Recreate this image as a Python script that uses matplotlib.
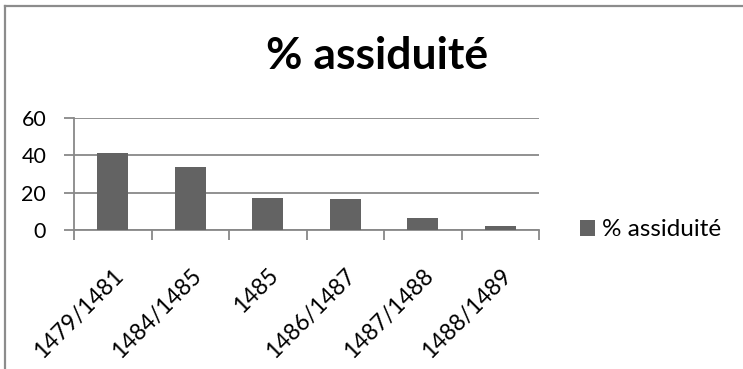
import numpy as np
import matplotlib.pyplot as plt
from matplotlib.lines import Line2D
from matplotlib.patches import Patch
import matplotlib.transforms as mtransforms

plt.rcParams['font.family'] = ['Lato', 'DejaVu Sans']

categories = ['1479/1481', '1484/1485', '1485', '1486/1487', '1487/1488', '1488/1489']
values = [41.2, 34.0, 17.4, 16.8, 6.4, 2.0]
series_name = '% assiduité'

bar_color = '#636363'
grid_color = '#888888'

W, H = 743, 369
fig = plt.figure(figsize=(W / 100, H / 100), dpi=100)
ax = fig.add_axes([74 / W, 1 - 230 / H, (539 - 74) / W, (230 - 118) / H])

x = np.arange(len(categories))
ax.bar(x, values, width=0.4, color=bar_color, zorder=3)

ax.set_xlim(-0.5, len(categories) - 0.5)
ax.set_ylim(0, 60)
ax.set_yticks([0, 20, 40, 60])
ax.yaxis.grid(True, color=grid_color, linewidth=1.3)
ax.set_axisbelow(True)

for side in ['top', 'right']:
    ax.spines[side].set_visible(False)
ax.spines['left'].set_color(grid_color)
ax.spines['bottom'].set_color(grid_color)
ax.spines['left'].set_linewidth(1.3)
ax.spines['bottom'].set_linewidth(1.3)

# category ticks sit between the bars, labels under the bars
ax.set_xticks(np.arange(-0.5, len(categories), 1.0))
ax.set_xticklabels([])
ax.set_xticks(x, minor=True)
ax.set_xticklabels(categories, minor=True, rotation=45, ha='right', va='top',
                   rotation_mode='anchor', fontsize=16.5)
shift = mtransforms.ScaledTranslation(4 / 100, 0, fig.dpi_scale_trans)
for lab in ax.get_xticklabels(minor=True):
    lab.set_transform(lab.get_transform() + shift)
ax.tick_params(axis='x', which='major', length=7, width=1.3, color=grid_color)
ax.tick_params(axis='x', which='minor', length=0, pad=25)
ax.tick_params(axis='y', length=7, width=1.3, color=grid_color, labelsize=15.5, pad=13)

fig.text(377 / W, 1 - 56 / H, series_name, ha='center', va='center',
         fontsize=32, fontweight='bold')

handle = Patch(facecolor=bar_color, label=series_name)
fig.legend(handles=[handle], loc='center left',
           bbox_to_anchor=(580 / W, 1 - 230 / H),
           frameon=False, fontsize=17.5, handlelength=0.6, handleheight=0.6,
           handletextpad=0.32, borderpad=0, borderaxespad=0)

# chart frame (top and left edges visible)
fig.add_artist(Line2D([5 / W, 1.0], [1 - 5.8 / H, 1 - 5.8 / H], color='#8c8c8c',
                      linewidth=1.6, transform=fig.transFigure))
fig.add_artist(Line2D([5.2 / W, 5.2 / W], [0.0, 1 - 5.8 / H], color='#8c8c8c',
                      linewidth=1.6, transform=fig.transFigure))

fig.savefig('out.png', dpi=100)
